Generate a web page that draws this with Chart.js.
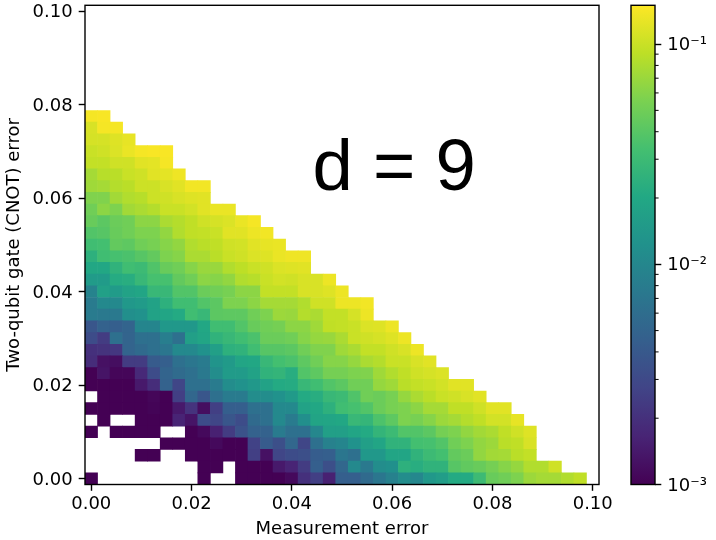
<!DOCTYPE html>
<html>
<head>
<meta charset="utf-8">
<title>d = 9</title>
<script src="https://cdn.jsdelivr.net/npm/chart.js@4/dist/chart.umd.js"></script>
<style>
  html, body { margin: 0; padding: 0; background: #fff; }
  #wrap { position: relative; width: 716px; height: 540px; overflow: hidden; }
  canvas { position: absolute; top: 0; }
  #map { left: 0; }
  #bar { left: 620px; }
</style>
</head>
<body>
<div id="wrap">
  <canvas id="map" width="620" height="540"></canvas>
  <canvas id="bar" width="96" height="540"></canvas>
</div>
<script>
// measurement error (columns)
const measurementError = [
  0, 0.0025, 0.005, 0.0075, 0.01, 0.0125, 0.015, 0.0175, 0.02, 0.0225,
  0.025, 0.0275, 0.03, 0.0325, 0.035, 0.0375, 0.04, 0.0425, 0.045, 0.0475,
  0.05, 0.0525, 0.055, 0.0575, 0.06, 0.0625, 0.065, 0.0675, 0.07, 0.0725,
  0.075, 0.0775, 0.08, 0.0825, 0.085, 0.0875, 0.09, 0.0925, 0.095, 0.0975
];
// two-qubit gate error (rows, bottom to top)
const gateError = [
  0, 0.0025, 0.005, 0.0075, 0.01, 0.0125, 0.015, 0.0175, 0.02, 0.0225,
  0.025, 0.0275, 0.03, 0.0325, 0.035, 0.0375, 0.04, 0.0425, 0.045, 0.0475,
  0.05, 0.0525, 0.055, 0.0575, 0.06, 0.0625, 0.065, 0.0675, 0.07, 0.0725,
  0.075, 0.0775
];

// log10 of the logical error rate, one list per gate error row. null = no cell
const row00 = [-3,null,null,null,null,null,null,null,null,-3,null,null,-3,-3,-3,-3,-2.95,-2.7,-2.6,-2.8,-2.35,-2.35,-2.25,-2.15,-2.05,-1.95,-2.0,-1.85,-1.8,-1.68,-1.68,-1.52,-1.33,-1.3,-1.25,-1.15,-1.12,-1.12,-1.08,-1.03];
const row01 = [null,null,null,null,null,null,null,null,null,-3,-3,null,-3,-3,-3,-2.85,-2.78,-2.62,-2.35,-2.48,-2.28,-1.98,-2.12,-1.95,-1.92,-1.62,-1.65,-1.6,-1.6,-1.4,-1.36,-1.33,-1.28,-1.22,-1.17,-1.08,-1.08,-0.98];
const row02 = [null,null,null,null,-3,-3,null,null,-3,-3,-3,-3,-3,-2.6,-2.9,-2.55,-2.5,-2.48,-2.36,-2.35,-2.15,-2.2,-1.85,-1.85,-1.72,-1.72,-1.6,-1.52,-1.48,-1.35,-1.32,-1.18,-1.13,-1.12,-1.05,-1.02];
const row03 = [null,null,null,null,null,null,-3,-3,-3,-3,-2.95,-3,-3,-2.58,-2.38,-2.48,-2.28,-2.55,-2.2,-2.05,-2.02,-1.9,-1.78,-1.72,-1.6,-1.6,-1.48,-1.47,-1.42,-1.3,-1.25,-1.18,-1.15,-1.05,-1.03,-0.95];
const row04 = [-3,null,-3,-3,-3,-3,null,null,-3,-2.95,-2.8,-2.62,-2.45,-2.32,-2.32,-2.1,-2.2,-2.2,-2.0,-1.78,-1.78,-1.72,-1.68,-1.58,-1.52,-1.42,-1.42,-1.38,-1.28,-1.25,-1.18,-1.13,-1.1,-1.03,-0.98,-0.93];
const row05 = [null,-3,null,null,-3,-3,-3,-2.78,-2.88,-2.5,-2.55,-2.42,-2.5,-2.25,-2.2,-1.98,-2.1,-1.93,-1.73,-1.72,-1.7,-1.55,-1.57,-1.44,-1.37,-1.25,-1.27,-1.22,-1.15,-1.12,-1.07,-1.03,-0.97,-0.97,-0.9];
const row06 = [-3,-3,-3,-3,-3,-2.98,-3,-2.85,-2.68,-2.92,-2.6,-2.35,-2.35,-2.2,-2.2,-1.98,-1.98,-1.75,-1.7,-1.62,-1.5,-1.47,-1.42,-1.32,-1.27,-1.25,-1.2,-1.12,-1.12,-1.03,-1.03,-0.98,-0.92,-0.92];
const row07 = [null,-3,-3,-3,-3,-2.97,-3,-2.6,-2.28,-2.42,-2.2,-2.1,-2.1,-1.95,-1.95,-1.9,-1.83,-1.68,-1.65,-1.55,-1.52,-1.43,-1.3,-1.32,-1.27,-1.17,-1.1,-1.05,-1.0,-0.98,-0.95,-0.92];
const row08 = [-3,-3,-3,-3,-2.85,-2.72,-2.32,-2.55,-2.2,-2.2,-2.1,-1.95,-1.9,-1.85,-1.75,-1.68,-1.67,-1.55,-1.5,-1.42,-1.38,-1.3,-1.3,-1.17,-1.14,-1.05,-1.02,-1.0,-0.97,-0.92,-0.92];
const row09 = [-3,-2.88,-2.97,-2.97,-2.75,-2.5,-2.3,-2.24,-2.2,-2.12,-1.95,-1.82,-1.82,-1.75,-1.6,-1.58,-1.65,-1.42,-1.37,-1.28,-1.28,-1.25,-1.24,-1.14,-1.08,-1.03,-0.98,-0.96,-0.94];
const row10 = [-2.72,-2.9,-2.92,-2.62,-2.62,-2.38,-2.35,-2.2,-2.15,-2.1,-1.88,-1.83,-1.72,-1.7,-1.55,-1.48,-1.45,-1.37,-1.3,-1.22,-1.22,-1.17,-1.1,-1.07,-1.0,-1.0,-0.95,-0.92];
const row11 = [-2.7,-2.68,-2.65,-2.3,-2.25,-2.2,-2.15,-1.98,-1.98,-1.9,-1.78,-1.62,-1.6,-1.5,-1.4,-1.4,-1.38,-1.3,-1.24,-1.24,-1.14,-1.1,-1.02,-1.02,-0.98,-0.95,-0.88];
const row12 = [-2.5,-2.62,-2.2,-2.3,-2.2,-2.2,-2.08,-2.2,-1.78,-1.72,-1.6,-1.55,-1.5,-1.45,-1.32,-1.32,-1.3,-1.22,-1.17,-1.16,-1.1,-1.0,-0.98,-0.96,-0.93,-0.88];
const row13 = [-2.42,-2.32,-2.35,-2.3,-2.02,-2.02,-1.85,-1.85,-1.85,-1.7,-1.5,-1.5,-1.42,-1.33,-1.3,-1.28,-1.2,-1.2,-1.14,-1.03,-1.02,-1.0,-0.94,-0.93,-0.88];
const row14 = [-2.1,-2.12,-2.12,-1.93,-1.9,-1.75,-1.72,-1.68,-1.5,-1.55,-1.38,-1.37,-1.37,-1.3,-1.25,-1.15,-1.16,-1.07,-1.1,-1.02,-1.02,-0.96,-0.88];
const row15 = [-2.1,-1.98,-1.98,-1.85,-1.82,-1.75,-1.62,-1.5,-1.5,-1.42,-1.38,-1.25,-1.25,-1.2,-1.12,-1.12,-1.12,-1.08,-0.98,-0.98,-0.88,-0.88,-0.86];
const row16 = [-2.03,-1.77,-1.82,-1.75,-1.72,-1.55,-1.55,-1.42,-1.42,-1.32,-1.3,-1.27,-1.2,-1.2,-1.02,-1.02,-1.02,-0.95,-0.95,-0.93,-0.88];
const row17 = [-1.82,-1.82,-1.67,-1.65,-1.55,-1.47,-1.47,-1.35,-1.3,-1.2,-1.22,-1.18,-1.08,-1.06,-1.0,-0.97,-0.98,-0.95,-0.95,-0.88];
const row18 = [-1.7,-1.7,-1.6,-1.5,-1.52,-1.43,-1.33,-1.3,-1.22,-1.16,-1.16,-1.08,-1.04,-1.0,-0.98,-0.94,-0.93,-0.92];
const row19 = [-1.62,-1.5,-1.47,-1.45,-1.4,-1.35,-1.25,-1.22,-1.1,-1.1,-1.05,-1.0,-0.98,-0.94,-0.93,-0.89,-0.87,-0.87];
const row20 = [-1.5,-1.48,-1.35,-1.37,-1.3,-1.27,-1.22,-1.18,-1.08,-1.05,-1.03,-0.98,-0.97,-0.92,-0.9,-0.89];
const row21 = [-1.42,-1.4,-1.33,-1.3,-1.25,-1.25,-1.18,-1.08,-1.03,-1.02,-1.0,-0.92,-0.92,-0.88,-0.86];
const row22 = [-1.33,-1.38,-1.32,-1.3,-1.2,-1.2,-1.1,-1.07,-1.03,-0.98,-0.96,-0.94,-0.89,-0.85];
const row23 = [-1.3,-1.2,-1.25,-1.13,-1.1,-1.07,-1.0,-1.0,-0.97,-0.92,-0.89,-0.89];
const row24 = [-1.24,-1.24,-1.13,-1.08,-1.06,-0.99,-0.98,-0.95,-0.93,-0.92];
const row25 = [-1.14,-1.12,-1.07,-1.05,-0.99,-0.99,-0.95,-0.92,-0.86,-0.86];
const row26 = [-1.12,-1.06,-1.05,-1.0,-0.98,-0.92,-0.91,-0.87];
const row27 = [-1.02,-1.02,-0.98,-0.98,-0.92,-0.91,-0.85];
const row28 = [-1.0,-0.98,-0.94,-0.89,-0.85,-0.84,-0.84];
const row29 = [-0.96,-0.96,-0.93,-0.9];
const row30 = [-0.95,-0.85,-0.85];
const row31 = [-0.85,-0.84];

const rowValues = [
  row00, row01, row02, row03, row04, row05, row06, row07, row08, row09, row10,
  row11, row12, row13, row14, row15, row16, row17, row18, row19, row20, row21,
  row22, row23, row24, row25, row26, row27, row28, row29, row30, row31
];

const xTicks = [0, 0.02, 0.04, 0.06, 0.08, 0.1];
const yTicks = [0, 0.02, 0.04, 0.06, 0.08, 0.1];
const cbMajor = [0.001, 0.01, 0.1];
const cbLabels = ['10\u207B\u00B3', '10\u207B\u00B2', '10\u207B\u00B9'];
const cbMinor = [0.002, 0.003, 0.004, 0.005, 0.006, 0.007, 0.008, 0.009,
  0.02, 0.03, 0.04, 0.05, 0.06, 0.07, 0.08, 0.09];
const vmin = 0.001;
const vmax = 0.15;
const viridis = ['#440154', '#482475', '#414487', '#355f8d', '#2a788e', '#21918c',
  '#22a884', '#44bf70', '#7ad151', '#bddf26', '#fde725'];

const halfCell = 0.00125;
const tickFont = { family: '"DejaVu Sans"', size: 18 };

function hexRgb(h) {
  return [1, 3, 5].map(i => parseInt(h.substr(i, 2), 16));
}

// t in 0..1 along the colormap
function viridisAt(t) {
  t = Math.min(1, Math.max(0, t));
  const p = t * (viridis.length - 1);
  const i = Math.min(Math.floor(p), viridis.length - 2);
  const a = hexRgb(viridis[i]), b = hexRgb(viridis[i + 1]);
  const f = p - i;
  return 'rgb(' + a.map((c, k) => Math.round(c + (b[k] - c) * f)).join(',') + ')';
}

const logMin = Math.log10(vmin);
const logMax = Math.log10(vmax);
const colorFor = v => viridisAt((v - logMin) / (logMax - logMin));

// one floating bar dataset per row
const datasets = rowValues.map((vals, r) => {
  const cells = [], colors = [];
  vals.forEach((v, c) => {
    if (v === null) return;
    cells.push({ x: measurementError[c], y: [gateError[r] - halfCell, gateError[r] + halfCell] });
    colors.push(colorFor(v));
  });
  return {
    data: cells,
    backgroundColor: colors,
    borderWidth: 0,
    grouped: false,
    barPercentage: 1,
    categoryPercentage: 1
  };
});

const framePlugin = {
  id: 'frame',
  afterDraw(chart) {
    const a = chart.chartArea, c = chart.ctx;
    c.save();
    c.strokeStyle = '#000';
    c.lineWidth = 1.4;
    c.strokeRect(a.left, a.top, a.right - a.left, a.bottom - a.top);
    c.restore();
  }
};

const titlePlugin = {
  id: 'bigLabel',
  afterDatasetsDraw(chart) {
    const c = chart.ctx;
    c.save();
    c.fillStyle = '#000';
    c.font = '72.5px "Liberation Sans"';
    c.textBaseline = 'alphabetic';
    c.fillText('d = 9', 312.5, 189.5);
    c.restore();
  }
};

new Chart(document.getElementById('map'), {
  type: 'bar',
  data: { datasets },
  plugins: [framePlugin, titlePlugin],
  options: {
    responsive: false,
    animation: false,
    layout: { padding: { top: 5.3, right: 21 } },
    plugins: { legend: { display: false }, tooltip: { enabled: false } },
    scales: {
      x: {
        type: 'linear',
        offset: false,
        min: -halfCell,
        max: 0.1 + halfCell,
        afterBuildTicks: s => { s.ticks = xTicks.map(value => ({ value })); },
        afterFit: s => { s.height = 55.5; s.paddingLeft = 0; s.paddingRight = 0; },
        grid: { drawOnChartArea: false, offset: false, tickLength: 6.3, tickWidth: 1.4, tickColor: '#000' },
        border: { display: false },
        ticks: { color: '#000', font: tickFont, padding: 3, maxRotation: 0, autoSkip: false, callback: v => v.toFixed(2) },
        title: { display: true, text: 'Measurement error', color: '#000', font: tickFont, padding: 0 }
      },
      y: {
        min: -halfCell,
        max: 0.1 + halfCell,
        afterBuildTicks: s => { s.ticks = yTicks.map(value => ({ value })); },
        afterFit: s => { s.width = 85; s.paddingTop = 0; s.paddingBottom = 0; },
        grid: { drawOnChartArea: false, tickLength: 6.3, tickWidth: 1.4, tickColor: '#000' },
        border: { display: false },
        ticks: { color: '#000', font: tickFont, padding: 6, labelOffset: 1.5, autoSkip: false, callback: v => v.toFixed(2) },
        title: { display: true, text: 'Two-qubit gate (CNOT) error', color: '#000', font: tickFont, padding: 4 }
      }
    }
  }
});

// colorbar
const minorTickPlugin = {
  id: 'minorTicks',
  afterDraw(chart) {
    const s = chart.scales.y, c = chart.ctx;
    c.save();
    c.strokeStyle = '#000';
    c.lineWidth = 1;
    cbMinor.forEach(v => {
      const y = s.getPixelForValue(v);
      c.beginPath();
      c.moveTo(s.left, y);
      c.lineTo(s.left + 3.6, y);
      c.stroke();
    });
    c.restore();
  }
};

new Chart(document.getElementById('bar'), {
  type: 'bar',
  data: {
    labels: ['rate'],
    datasets: [{
      data: [[vmin, vmax]],
      barPercentage: 1,
      categoryPercentage: 1,
      borderWidth: 0,
      backgroundColor(ctx) {
        const a = ctx.chart.chartArea;
        if (!a) return viridis[5];
        const g = ctx.chart.ctx.createLinearGradient(0, a.bottom, 0, a.top);
        viridis.forEach((col, i) => g.addColorStop(i / (viridis.length - 1), col));
        return g;
      }
    }]
  },
  plugins: [framePlugin, minorTickPlugin],
  options: {
    responsive: false,
    animation: false,
    layout: { padding: { top: 5.3, left: 11, bottom: 55.5 } },
    plugins: { legend: { display: false }, tooltip: { enabled: false } },
    scales: {
      x: { display: false },
      y: {
        type: 'logarithmic',
        position: 'right',
        min: vmin,
        max: vmax,
        afterBuildTicks: s => { s.ticks = cbMajor.map(value => ({ value })); },
        afterFit: s => { s.width = 61; s.paddingTop = 0; s.paddingBottom = 0; },
        grid: { drawOnChartArea: false, tickLength: 6.3, tickWidth: 1.4, tickColor: '#000' },
        border: { display: false },
        ticks: {
          color: '#000',
          font: tickFont,
          padding: 6,
          labelOffset: 1.5,
          autoSkip: false,
          callback: (v, i) => cbLabels[i]
        }
      }
    }
  }
});
</script>
</body>
</html>
